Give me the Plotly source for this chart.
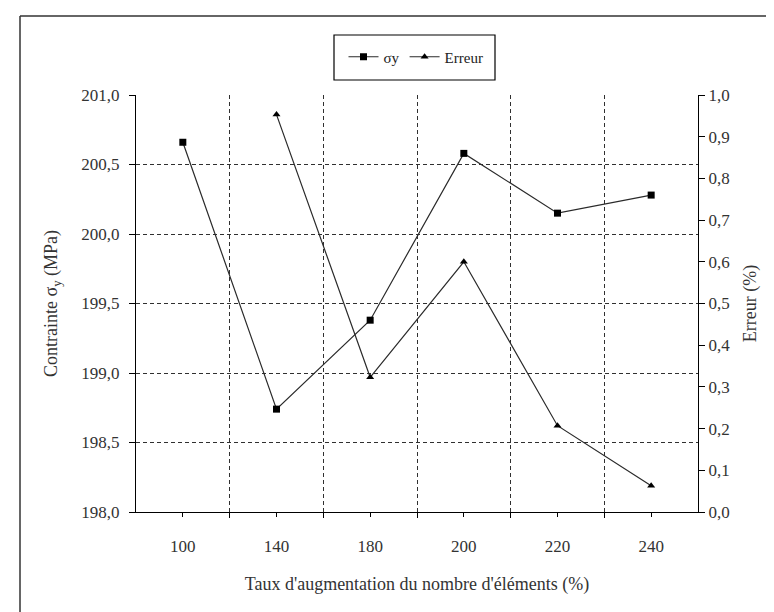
import plotly.graph_objects as go

categories = ["100", "140", "180", "200", "220", "240"]
sigma_y = [200.66, 198.74, 199.38, 200.58, 200.15, 200.28]
erreur = [None, 0.953, 0.323, 0.60, 0.207, 0.063]
left_ticks = [198.0, 198.5, 199.0, 199.5, 200.0, 200.5, 201.0]
right_ticks = [0.0, 0.1, 0.2, 0.3, 0.4, 0.5, 0.6, 0.7, 0.8, 0.9, 1.0]

xpos = list(range(len(categories)))
FONT = "Liberation Serif"

# plot-area geometry in pixels (used only to place frame and legend box)
L, R, T, B = 128, 690, 87, 504
W, H = R - L, B - T


def px(x):
    return (x - L) / W


def py(y):
    return (B - y) / H


fig = go.Figure()
fig.add_trace(go.Scatter(
    x=xpos, y=sigma_y, name="σy", mode="lines+markers",
    line=dict(color="#2a2a2a", width=1.2),
    marker=dict(symbol="square", size=7, color="black"),
    yaxis="y"))
fig.add_trace(go.Scatter(
    x=xpos, y=erreur, name="Erreur", mode="lines+markers",
    line=dict(color="#2a2a2a", width=1.2),
    marker=dict(symbol="triangle-up", size=7, color="black"),
    yaxis="y2", connectgaps=False))

GRID = dict(showgrid=True, gridcolor="#303030", griddash="4px,3px", gridwidth=1)

fig.update_layout(
    width=774, height=612,
    paper_bgcolor="white", plot_bgcolor="white",
    separators=", ",
    font=dict(family=FONT, size=16, color="#333333"),
    margin=dict(l=L, r=774 - R, t=T, b=612 - B),
    showlegend=True,
    legend=dict(orientation="h", x=px(408), y=py(49), xref="paper", yref="paper",
                xanchor="center", yanchor="middle",
                borderwidth=0, bgcolor="rgba(0,0,0,0)",
                font=dict(family=FONT, size=15, color="#222222"),
                itemwidth=30),
    xaxis=dict(
        range=[-0.5, 5.5], tickmode="array", tickvals=xpos, ticktext=categories,
        ticks="outside", ticklen=4, tickcolor="black", showgrid=False,
        showline=True, linecolor="black", linewidth=1.2, zeroline=False,
        tickfont=dict(size=17), ticklabelstandoff=14,
        minor=dict(tickmode="array", tickvals=[0.5, 1.5, 2.5, 3.5, 4.5],
                   ticks="outside", ticklen=5, tickcolor="black", **GRID),
        title=dict(text="Taux d'augmentation du nombre d'éléments (%)",
                   font=dict(size=18), standoff=22),
    ),
    yaxis=dict(
        range=[198.0, 201.0], tickmode="array", tickvals=left_ticks,
        tickformat=".1f", ticks="outside", ticklen=6, tickcolor="black",
        showline=True, linecolor="black", linewidth=1.2, zeroline=False,
        tickfont=dict(size=17), ticklabelstandoff=6, **GRID,
        title=dict(text="Contrainte σ<sub>y</sub> (MPa)", font=dict(size=18), standoff=18),
    ),
    yaxis2=dict(
        range=[0.0, 1.0], overlaying="y", side="right", tickmode="array",
        tickvals=right_ticks, tickformat=".1f", ticks="outside", ticklen=6,
        tickcolor="black", showline=True, linecolor="black", linewidth=1.2,
        showgrid=False, zeroline=False, tickfont=dict(size=17),
        title=dict(text="Erreur (%)", font=dict(size=18), standoff=14),
    ),
)

# legend box
fig.add_shape(type="rect", xref="paper", yref="paper",
              x0=px(326), x1=px(487), y0=py(72), y1=py(27),
              line=dict(color="black", width=1.2), fillcolor="rgba(0,0,0,0)", layer="below")

# outer frame (left and top edges as in the scan)
fig.add_shape(type="line", xref="paper", yref="paper",
              x0=px(12), x1=px(12), y0=py(612), y1=py(8),
              line=dict(color="#333333", width=1.5))
fig.add_shape(type="line", xref="paper", yref="paper",
              x0=px(12), x1=px(760), y0=py(8), y1=py(8),
              line=dict(color="#333333", width=1.5))

fig.write_html("out.html")
